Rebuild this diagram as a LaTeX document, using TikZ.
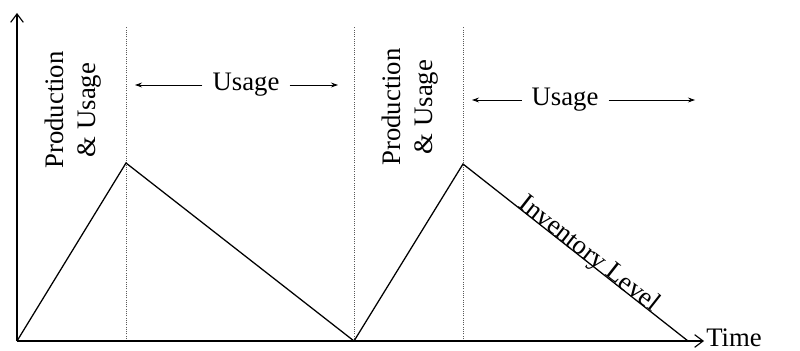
\documentclass[tikz,border=0pt]{standalone}
\usepackage{fontspec}
\setmainfont{Liberation Serif}
\usetikzlibrary{arrows.meta,calc}

\begin{document}
\begin{tikzpicture}[x=0.025cm,y=0.025cm,
  axis/.style={line width=0.8pt,-{Straight Barb[length=6pt,width=9pt]}},
  level/.style={line width=0.9pt},
  phase/.style={densely dotted,line width=0.6pt,gray!70!black},
  span/.style={line width=0.6pt,-{Stealth[length=5pt,width=3.5pt]}},
  lbl/.style={font=\fontsize{19}{23}\selectfont}]
\useasboundingbox (0,0) rectangle (800,350);
\coordinate (O) at (17,9);
\coordinate (top) at (17,337);
\coordinate (end) at (704,9);
\coordinate (p1) at (126,187);
\coordinate (e1) at (354,9);
\coordinate (p2) at (463,186);
\coordinate (e2) at (688,9);
\foreach \px/\nm in {126/a,354/b,463/c}
  \draw[phase] (\px,9) -- (\px,323) coordinate (d\nm);
\draw[axis] (O) -- (top);
\draw[axis] (O) -- (end);
\node[lbl,anchor=base west,inner sep=0pt] (time) at (706,4) {Time};
\draw[level] (O) -- (p1) -- (e1) -- (p2) -- (e2)
  node[lbl,sloped,anchor=base,inner sep=0pt,pos=0.54] (inv) {Inventory Level};
\node[lbl,rotate=90,align=center] (prod1) at (73,240) {Production\\\& Usage};
\node[lbl,rotate=90,align=center] (prod2) at (410,243) {Production\\\& Usage};
\node[lbl,inner sep=7pt] (use1) at (246,265) {Usage};
\node[lbl,inner sep=7pt] (use2) at (565,250) {Usage};
\coordinate (u1l) at (135,265);
\coordinate (u1r) at (338,265);
\coordinate (u2l) at (472,250);
\coordinate (u2r) at (695,250);
\draw[span] (use1.west) -- (u1l);
\draw[span] (use1.east) -- (u1r);
\draw[span] (use2.west) -- (u2l);
\draw[span] (use2.east) -- (u2r);
\end{tikzpicture}
\end{document}
